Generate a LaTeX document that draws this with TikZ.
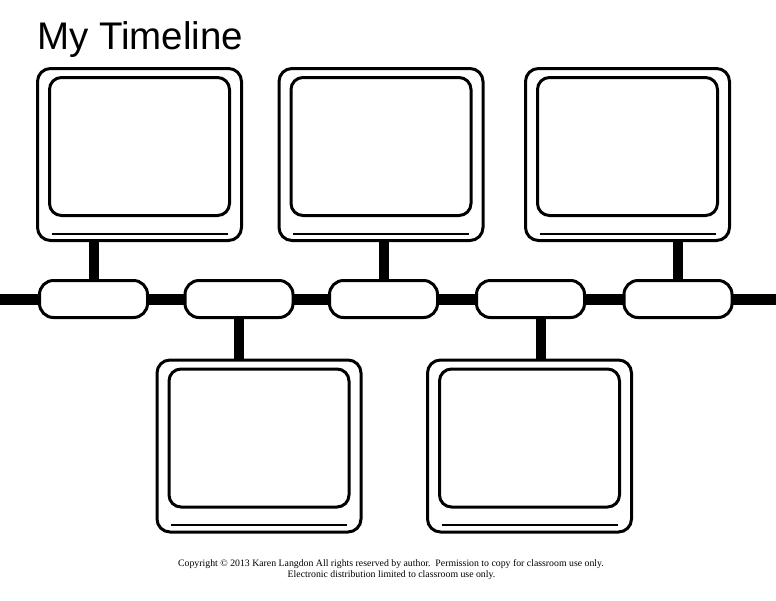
\documentclass[tikz,border=0pt]{standalone}
\usepackage{fontspec}
\setmainfont{Liberation Serif}
\newfontfamily\titlefont{Liberation Sans}
\usetikzlibrary{positioning,calc}

\tikzset{
  frame/.style={draw, line width=3pt, rounded corners=13pt, minimum width=204pt, minimum height=172pt, inner sep=0pt, fill=white},
  screen/.style={draw, line width=3pt, rounded corners=12pt, minimum width=180pt, minimum height=138pt, inner sep=0pt},
  datebox/.style={draw, line width=3pt, rounded corners=14pt, minimum width=108pt, minimum height=37pt, inner sep=0pt, fill=white},
  stem/.style={line width=10pt},
  axis/.style={line width=11pt},
  note/.style={inner sep=0pt, anchor=base, font=\fontsize{9.8}{10}\selectfont}
}

\begin{document}
\begin{tikzpicture}[x=1pt,y=-1pt]
  \useasboundingbox (0,0) rectangle (776,600);

  \node[anchor=base west, inner sep=0pt, font=\titlefont\fontsize{38.5}{40}\selectfont] (title) at (37,49) {My Timeline};

  % timeline axis
  \coordinate (start) at (0,299.5);
  \coordinate (end) at (776,299.5);
  \draw[axis] (start) -- (end);

  \foreach \n/\x in {1/93.5, 2/239, 3/383.5, 4/530.5, 5/678}
    \node[datebox] (date\n) at (\x,299) {};

  % picture cards
  \foreach \n/\x/\y in {1/139.5/154.5, 2/381/154.5, 3/627.5/154.5, 4/259/446, 5/529.5/446} {
    \node[frame] (card\n) at (\x,\y) {};
    \node[screen] (screen\n) at ($(card\n.center)+(0,-8)$) {};
    \coordinate (lineL\n) at ($(card\n.south)+(-88,-8.5)$);
    \coordinate (lineR\n) at ($(card\n.south)+(88,-8.5)$);
    \draw[line width=2pt] (lineL\n) -- (lineR\n);
  }

  % stems
  \draw[stem] (date1.north) -- (date1.north |- card1.south);
  \draw[stem] (date3.north) -- (date3.north |- card2.south);
  \draw[stem] (date5.north) -- (date5.north |- card3.south);
  \draw[stem] (date2.south) -- (date2.south |- card4.north);
  \draw[stem] ([xshift=10.5pt]date4.south) -- ([xshift=10.5pt]date4.south |- card5.north);

  \node[note] (copy1) at (391,566) {Copyright \textcopyright{} 2013 Karen Langdon All rights reserved by author.\ \ Permission to copy for classroom use only.};
  \node[note] (copy2) at (391.5,577) {Electronic distribution limited to classroom use only.};
\end{tikzpicture}
\end{document}
